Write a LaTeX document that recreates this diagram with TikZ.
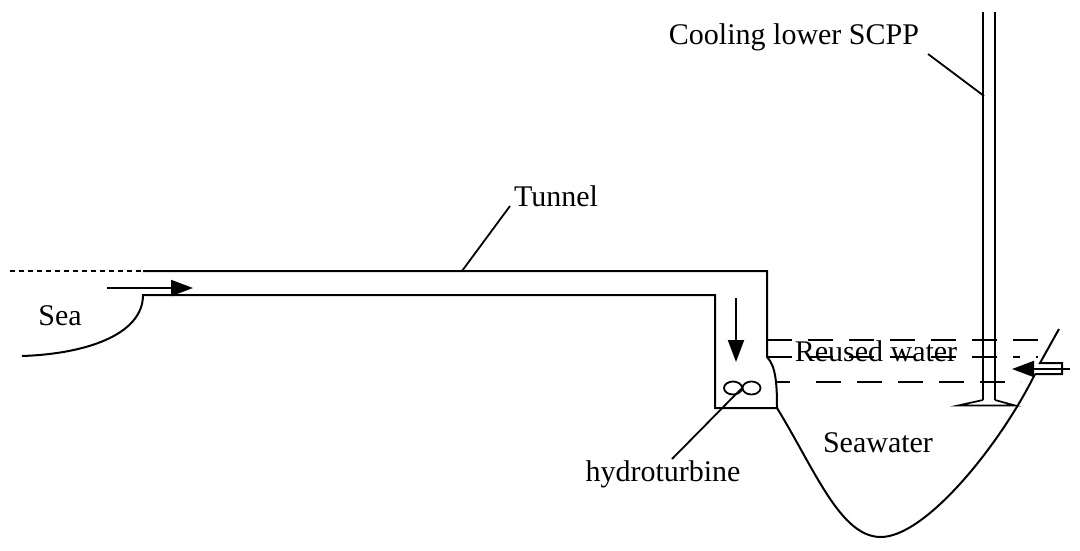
\documentclass[tikz,border=0pt]{standalone}
\usepackage{fontspec}
\setmainfont{Liberation Serif}
\usetikzlibrary{arrows.meta}
\tikzset{
  ln/.style={line width=2pt,black},
  lead/.style={line width=1.8pt,black},
  dashline/.style={line width=1.8pt,black,dash pattern=on 24.5pt off 16.5pt},
  flow/.style={line width=2pt,black,-{Triangle[length=22pt,width=16pt]}},
  lbl/.style={font=\fontsize{30}{33}\selectfont,inner sep=0pt,text=black}
}
\begin{document}
\begin{tikzpicture}[x=1pt,y=-1pt]
\useasboundingbox (0,0) rectangle (1080,550);
% tunnel and shaft
\draw[ln,line join=miter] (22,356) .. controls (85,354) and (143,335) .. (143,295)
  -- (715,295) -- (715,408) -- (777,408)
  .. controls (777,385) and (776,366) .. (767,357) -- (767,271) -- (143,271);
\draw[line width=2pt,dash pattern=on 5pt off 4pt] (10,271) -- (143,271);
% basin
\draw[ln] (777,408) .. controls (815,470) and (840,536) .. (880,537)
  .. controls (925,538) and (1000,445) .. (1035,374);
\draw[ln,line join=miter] (1035,374) -- (1062,374) -- (1062,363) -- (1040,363) -- (1059,329);
% water levels
\draw[dashline] (767,340) -- (1052,340);
\draw[dashline] (767,357) -- (1020,357);
\draw[lead] (1036,357) -- (1038,357);
\draw[lead] (777,382) -- (790,382);
\draw[dashline] (816,382) -- (1021,382);
% pipe
\draw[ln] (983,12) -- (983,400);
\draw[ln] (995,12) -- (995,400);
\draw[line width=1.7pt,line join=miter] (983,400) -- (958,405.5) -- (1015,405.5) -- (995,400);
% flows
\draw[flow] (107,288) -- (193,288);
\draw[flow] (736,298) -- (736,362);
\draw[flow] (1070,369) -- (1012,369);
% turbine
\draw[lead] (733,388) ellipse [x radius=9,y radius=6.5];
\draw[lead] (751.5,388) ellipse [x radius=9,y radius=6.5];
% labels
\node[lbl] (tunnel) at (556,196) {Tunnel};
\node[lbl] (sea) at (60,316) {Sea};
\node[lbl] (turbine) at (663,474) {hydroturbine};
\node[lbl] (seawater) at (878,443) {Seawater};
\node[lbl] (reused) at (876,351) {Reused water};
\node[lbl] (cooling) at (794,37) {Cooling lower SCPP};
% leaders
\coordinate (tunnelA) at (462,271);
\coordinate (tunnelB) at (510,206);
\coordinate (turbA) at (741,389);
\coordinate (turbB) at (672,459);
\coordinate (coolA) at (928,54);
\coordinate (coolB) at (984,96);
\draw[lead] (tunnelA) -- (tunnelB);
\draw[lead] (turbA) -- (turbB);
\draw[lead] (coolA) -- (coolB);
\end{tikzpicture}
\end{document}
